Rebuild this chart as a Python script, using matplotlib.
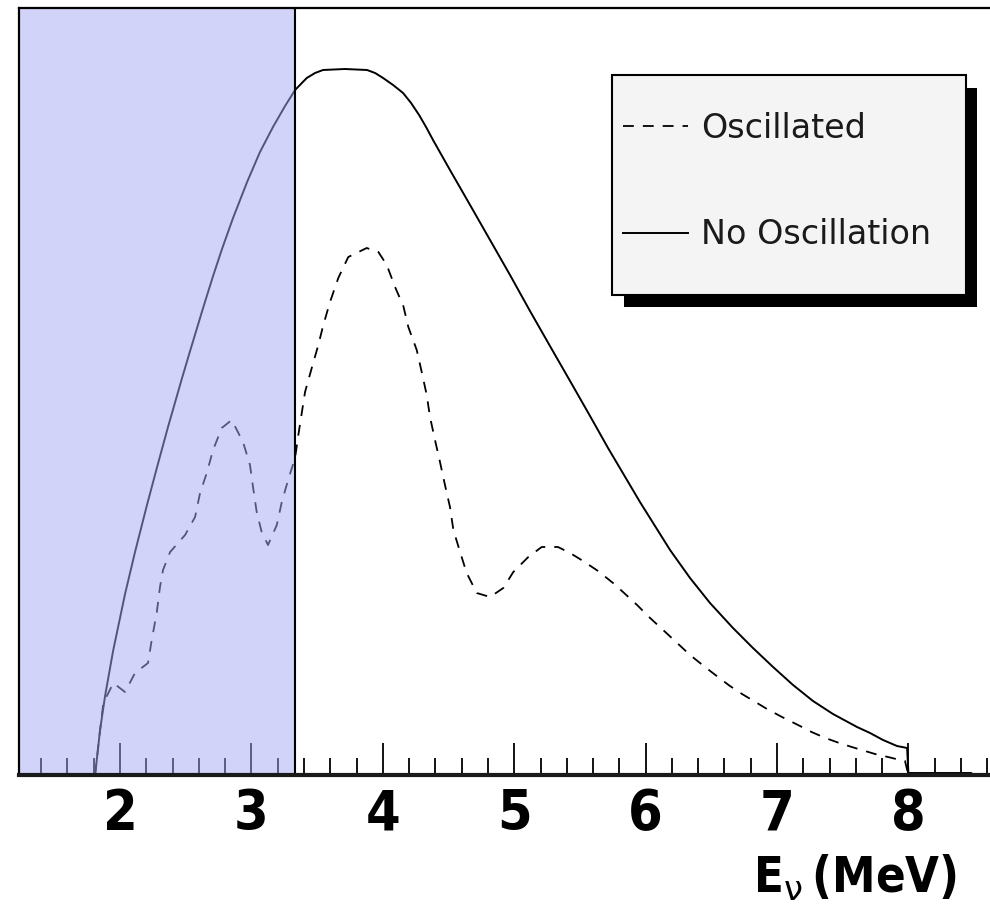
import matplotlib
matplotlib.use("Agg")
import matplotlib.pyplot as plt
from matplotlib import font_manager as fm
from matplotlib.patches import Rectangle
from matplotlib.ticker import MultipleLocator, FixedLocator

# ---------------- data (arbitrary vertical units) ----------------
e_noosc = [1.810, 1.848, 1.886, 1.947, 2.038, 2.114, 2.205, 2.282, 2.365, 2.472,
           2.533, 2.632, 2.708, 2.776, 2.860, 2.967, 3.065, 3.164, 3.256, 3.332,
           3.421, 3.484, 3.545, 3.712, 3.880, 3.941, 4.002, 4.078, 4.154, 4.215,
           4.276, 4.329, 4.382, 4.511, 4.664, 4.816, 4.968, 5.120, 5.272, 5.425,
           5.577, 5.714, 5.957, 6.186, 6.338, 6.490, 6.665, 6.817, 6.970, 7.122,
           7.274, 7.426, 7.609, 7.708, 7.807, 7.913, 7.990, 8.000, 8.480, 8.480]
y_noosc = [0, 45, 79, 124, 181, 223, 270, 308, 348, 397,
           424, 467, 499, 526, 557, 593, 623, 648, 669, 685,
           697, 702, 705, 706, 705, 702, 697, 690, 682, 672,
           660, 648, 635, 605, 570, 535, 500, 464, 429, 394,
           359, 327, 273, 225, 197, 172, 147, 127, 108, 90,
           74, 61, 48, 42, 35, 29, 27, 2, 2, 0]

e_osc = [1.810, 1.848, 1.873, 1.949, 2.038, 2.114, 2.213, 2.241, 2.279, 2.304,
         2.327, 2.381, 2.495, 2.571, 2.609, 2.660, 2.708, 2.774, 2.850, 2.936,
         2.989, 3.012, 3.040, 3.078, 3.126, 3.193, 3.231, 3.279, 3.332, 3.357,
         3.383, 3.408, 3.459, 3.509, 3.547, 3.598, 3.661, 3.737, 3.877, 3.966,
         4.030, 4.093, 4.156, 4.194, 4.258, 4.296, 4.334, 4.359, 4.397, 4.435,
         4.473, 4.511, 4.537, 4.588, 4.638, 4.715, 4.816, 4.917, 4.993, 5.107,
         5.209, 5.333, 5.425, 5.524, 5.638, 5.752, 5.828, 5.935, 6.034, 6.125,
         6.240, 6.338, 6.452, 6.551, 6.642, 6.734, 6.848, 6.924, 7.038, 7.175,
         7.263, 7.368, 7.495, 7.619, 7.746, 7.845, 7.936, 7.974, 8.000]
y_osc = [0, 45, 72, 92, 83, 102, 112, 135, 162, 188,
         205, 223, 240, 258, 282, 302, 325, 347, 355, 333,
         310, 288, 263, 243, 230, 250, 273, 295, 317, 340,
         362, 383, 407, 430, 450, 473, 497, 518, 527, 523,
         510, 488, 469, 448, 425, 403, 380, 358, 335, 313,
         290, 268, 245, 223, 202, 182, 178, 187, 203, 218,
         228, 228, 222, 214, 204, 192, 183, 170, 157, 146,
         132, 120, 108, 98, 89, 81, 72, 66, 58, 49,
         43, 37, 31, 26, 21, 18, 15, 14, 0]

threshold = 3.332          # shaded region upper edge (MeV)
x_range = (1.231, 8.621)
y_range = (0, 767)
major_ticks = [2, 3, 4, 5, 6, 7, 8]
tick_labels = ["2", "3", "4", "5", "6", "7", "8"]
labels = ["Oscillated", "No Oscillation"]

# ---------------- fonts ----------------
numprops = fm.FontProperties(family=["Liberation Sans", "DejaVu Sans"],
                             weight="bold")
for f in fm.fontManager.ttflist:
    nm = f.name.lower()
    if (("narrow" in nm or "condensed" in nm or f.stretch in ("condensed", "semi-condensed"))
            and (f.weight in ("bold", 700) or "bold" in f.fname.lower())
            and "italic" not in f.fname.lower() and "oblique" not in f.fname.lower()):
        numprops = fm.FontProperties(fname=f.fname)
        break

# ---------------- figure ----------------
W, H = 990, 907
fig = plt.figure(figsize=(W / 100, H / 100), dpi=100)
ax = fig.add_axes([19 / W, 1 - 775 / H, 1 - 19 / W, (775 - 8) / H])

l_osc, = ax.plot(e_osc, y_osc, color="black", lw=1.3,
                 linestyle=(0, (6, 5)), zorder=2, solid_joinstyle="round")
l_no, = ax.plot(e_noosc, y_noosc, color="black", lw=1.4, zorder=2.1,
                solid_joinstyle="round")

ax.axvspan(x_range[0], threshold, facecolor=(165 / 255, 169 / 255, 245 / 255),
           alpha=0.5, lw=0, zorder=4)
ax.axvline(threshold, color="black", lw=1.5, zorder=5)

ax.set_xlim(*x_range)
ax.set_ylim(*y_range)
ax.set_yticks([])
ax.xaxis.set_major_locator(FixedLocator(major_ticks))
ax.set_xticklabels(tick_labels)
ax.xaxis.set_minor_locator(MultipleLocator(0.2))

ax.tick_params(axis="x", which="major", direction="in", length=23, width=1.3,
               pad=9, labelsize=40, color="black")
ax.tick_params(axis="x", which="minor", direction="in", length=12, width=1.3,
               color="black")
for t in ax.get_xticklabels():
    t.set_fontproperties(numprops)
    t.set_fontsize(40)

for s in ["top", "left"]:
    ax.spines[s].set_linewidth(1.6)
    ax.spines[s].set_zorder(6)
ax.spines["bottom"].set_linewidth(3.0)
ax.spines["bottom"].set_color("#1a1a1a")
ax.spines["bottom"].set_zorder(6)
ax.spines["right"].set_visible(False)

xl = ax.set_xlabel(r"E$_{\mathrm{\nu}}\,$(MeV)", ha="right", va="baseline")
xl.set_fontproperties(numprops)
xl.set_fontsize(35)
ax.xaxis.set_label_coords((957 - 19) / (W - 19), (775 - 893) / 767)

# ---------------- legend ----------------
def fx(px):
    return px / W


def fy(py):
    return 1 - py / H


leg = ax.legend(handles=[l_osc, l_no], labels=labels, loc="upper left",
                bbox_to_anchor=(fx(623), fy(112)), bbox_transform=fig.transFigure,
                frameon=False, borderpad=0, borderaxespad=0,
                handlelength=1.95, handletextpad=0.4, labelspacing=2.2,
                prop={"family": "DejaVu Sans", "size": 24})
leg.set_zorder(8)
for t in leg.get_texts():
    t.set_color("#1a1a1a")

shadow = Rectangle((fx(624), fy(307)), fx(977) - fx(624), fy(88) - fy(307),
                   transform=fig.transFigure, facecolor="black", edgecolor="none",
                   zorder=6.5, clip_on=False)
frame = Rectangle((fx(612), fy(295)), fx(966) - fx(612), fy(75) - fy(295),
                  transform=fig.transFigure, facecolor="#f4f4f4", edgecolor="black",
                  lw=1.5, zorder=7, clip_on=False)
ax.add_patch(shadow)
ax.add_patch(frame)

fig.savefig("out.png", dpi=100)
